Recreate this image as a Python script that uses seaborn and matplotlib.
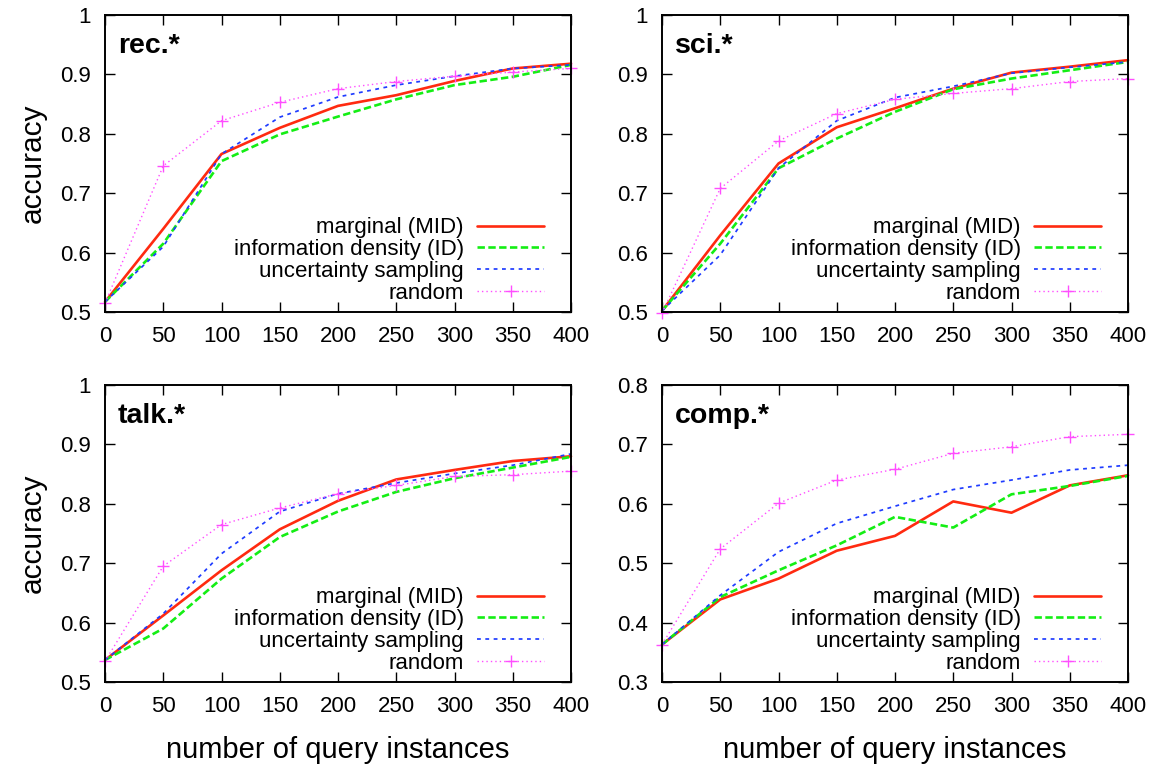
import numpy as np
import pandas as pd
import matplotlib
matplotlib.use("Agg")
import matplotlib.pyplot as plt
from matplotlib.ticker import FuncFormatter
import seaborn as sns

# ---------------- data ----------------
n_queries = [0, 50, 100, 150, 200, 250, 300, 350, 400]
methods = ["marginal (MID)", "information density (ID)", "uncertainty sampling", "random"]
panels = ["rec.*", "sci.*", "talk.*", "comp.*"]

rec_marginal = [0.517, 0.640, 0.766, 0.810, 0.847, 0.865, 0.889, 0.910, 0.918]
rec_id       = [0.517, 0.615, 0.754, 0.799, 0.829, 0.858, 0.882, 0.896, 0.916]
rec_us       = [0.517, 0.610, 0.766, 0.828, 0.862, 0.882, 0.897, 0.910, 0.916]
rec_random   = [0.515, 0.746, 0.822, 0.853, 0.876, 0.888, 0.897, 0.904, 0.910]

sci_marginal = [0.502, 0.629, 0.750, 0.811, 0.843, 0.876, 0.903, 0.913, 0.924]
sci_id       = [0.502, 0.615, 0.742, 0.792, 0.837, 0.875, 0.893, 0.907, 0.921]
sci_us       = [0.502, 0.596, 0.742, 0.822, 0.861, 0.880, 0.902, 0.912, 0.921]
sci_random   = [0.498, 0.708, 0.788, 0.834, 0.858, 0.868, 0.876, 0.888, 0.893]

talk_marginal = [0.537, 0.612, 0.688, 0.757, 0.805, 0.841, 0.857, 0.872, 0.880]
talk_id       = [0.537, 0.590, 0.674, 0.744, 0.787, 0.820, 0.843, 0.861, 0.879]
talk_us       = [0.537, 0.615, 0.716, 0.787, 0.817, 0.835, 0.851, 0.865, 0.884]
talk_random   = [0.535, 0.695, 0.765, 0.793, 0.817, 0.831, 0.846, 0.849, 0.855]

comp_marginal = [0.363, 0.439, 0.474, 0.521, 0.546, 0.604, 0.585, 0.631, 0.648]
comp_id       = [0.363, 0.443, 0.488, 0.530, 0.578, 0.560, 0.616, 0.630, 0.647]
comp_us       = [0.363, 0.446, 0.519, 0.567, 0.596, 0.624, 0.640, 0.657, 0.665]
comp_random   = [0.363, 0.524, 0.601, 0.640, 0.658, 0.685, 0.696, 0.713, 0.717]

y_ranges = {"rec.*": (0.5, 1.0), "sci.*": (0.5, 1.0), "talk.*": (0.5, 1.0), "comp.*": (0.3, 0.8)}
x_label = "number of query instances"
y_label = "accuracy"

panel_data = {
    "rec.*": [rec_marginal, rec_id, rec_us, rec_random],
    "sci.*": [sci_marginal, sci_id, sci_us, sci_random],
    "talk.*": [talk_marginal, talk_id, talk_us, talk_random],
    "comp.*": [comp_marginal, comp_id, comp_us, comp_random],
}

# ---------------- style ----------------
sns.set_theme(style="ticks")
plt.rcParams["font.family"] = ["Liberation Sans", "DejaVu Sans"]
for k in ("text.color", "axes.labelcolor", "xtick.color", "ytick.color", "axes.edgecolor"):
    plt.rcParams[k] = "black"

styles = {
    "marginal (MID)": dict(color="#ff2a10", lw=1.9, ls="-", marker=None),
    "information density (ID)": dict(color="#14ee14", lw=1.9, ls=(0, (2.8, 1.3)), marker=None),
    "uncertainty sampling": dict(color="#1f3cff", lw=1.25, ls=(0, (2.2, 2.6)), marker=None),
    "random": dict(color="#ff4dff", lw=1.0, ls=(0, (1.0, 2.2)), marker="+"),
}

W, H = 1160, 768
fig = plt.figure(figsize=(W / 100, H / 100), dpi=100)

# axes boxes in pixels: left, top, right, bottom
boxes = {
    "rec.*": (105, 15, 571, 312),
    "sci.*": (662, 15, 1128, 312),
    "talk.*": (105, 385, 571, 682),
    "comp.*": (662, 385, 1128, 682),
}

fmt = FuncFormatter(lambda v, p: f"{v:g}")

for panel in panels:
    l, t, r, b = boxes[panel]
    ax = fig.add_axes([l / W, 1 - b / H, (r - l) / W, (b - t) / H])
    for m, vals in zip(methods, panel_data[panel]):
        st = styles[m]
        df = pd.DataFrame({"n": n_queries, "acc": vals})
        kw = {}
        if st["marker"]:
            kw = dict(marker="+", markersize=9, markeredgewidth=1.0,
                      markeredgecolor=st["color"], markerfacecolor=st["color"])
        sns.lineplot(data=df, x="n", y="acc", ax=ax, color=st["color"], linewidth=st["lw"],
                     linestyle=st["ls"], label=m, clip_on=False, **kw)
    y0, y1 = y_ranges[panel]
    ax.set_xlim(0, 400)
    ax.set_ylim(y0, y1)
    ax.set_xticks(n_queries)
    ax.set_yticks(np.round(np.arange(y0, y1 + 0.001, 0.1), 2))
    ax.xaxis.set_major_formatter(fmt)
    ax.yaxis.set_major_formatter(fmt)
    ax.tick_params(direction="in", top=True, right=True, length=7, width=1.0,
                   labelsize=16, pad=10, colors="black")
    for s in ax.spines.values():
        s.set_visible(True)
        s.set_linewidth(1.4)
        s.set_color("black")
    ax.set_xlabel("")
    ax.set_ylabel("")
    ax.text(0.028, 0.872, panel, transform=ax.transAxes, fontsize=20.5, fontweight="bold",
            ha="left", va="baseline")
    leg = ax.legend(loc="lower right", bbox_to_anchor=(0.942, 0.027), frameon=False,
                    markerfirst=False, fontsize=16, handlelength=3.0, handletextpad=0.6,
                    labelspacing=0.04, borderpad=0, borderaxespad=0, numpoints=1)
    if panel in ("rec.*", "talk.*"):
        ax.set_ylabel(y_label, fontsize=21.5, labelpad=10)
    if panel in ("talk.*", "comp.*"):
        ax.set_xlabel(x_label, fontsize=21, labelpad=14)

fig.savefig("out.png", dpi=100)
